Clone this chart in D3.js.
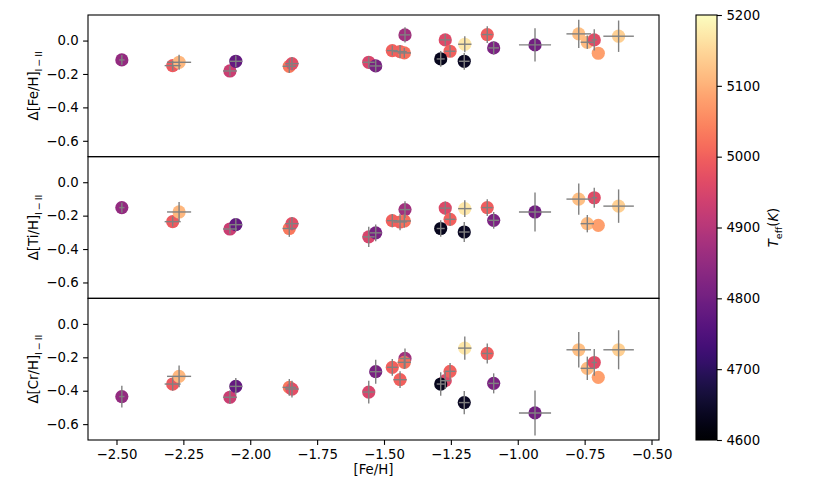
<!DOCTYPE html>
<html><head><meta charset="utf-8">
<script src="https://cdn.jsdelivr.net/npm/d3@7"></script>
<style>
body{margin:0;background:#fff;}
text{font-family:"DejaVu Sans",sans-serif;fill:#000;}
</style></head>
<body><svg id="c" width="830" height="498"></svg>
<script>
const feh    = [-2.48,-2.29,-2.266,-2.076,-2.054,-1.854,-1.844,-1.557,-1.531,-1.4215,-1.469,-1.44,-1.424,-1.271,-1.253,-1.288,-1.198,-1.2,-1.114,-1.09,-0.9355,-0.772,-0.74,-0.714,-0.699,-0.623];
const fehErr = [0.01,0.03,0.045,0.026,0.024,0.025,0.025,0.022,0.022,0.02,0.02,0.025,0.025,0.02,0.02,0.015,0.025,0.02,0.02,0.02,0.06,0.046,0.025,0.01,0,0.057];
const teff   = [4850,4990,5110,4930,4780,5030,4970,4950,4810,4870,5000,5000,5020,4960,5000,4635,5170,4640,4995,4815,4800,5120,5115,4965,5080,5140];
const dFe    = [-0.116,-0.15,-0.13,-0.182,-0.124,-0.154,-0.138,-0.13,-0.152,0.034,-0.06,-0.066,-0.074,0.004,-0.064,-0.11,-0.022,-0.124,0.036,-0.044,-0.026,0.04,-0.01,0.004,-0.076,0.026];
const dFeErr = [0.03,0.03,0.045,0.03,0.035,0.04,0.04,0.035,0.035,0.045,0.03,0.04,0.03,0.035,0.035,0.047,0.048,0.05,0.05,0.04,0.1,0.085,0.04,0.064,0,0.094];
const dTi    = [-0.152,-0.236,-0.178,-0.28,-0.254,-0.277,-0.248,-0.327,-0.303,-0.164,-0.23,-0.238,-0.232,-0.155,-0.222,-0.277,-0.158,-0.298,-0.152,-0.228,-0.178,-0.101,-0.248,-0.093,-0.258,-0.143];
const dTiErr = [0.03,0.03,0.06,0.03,0.04,0.05,0.04,0.06,0.05,0.05,0.04,0.05,0.04,0.04,0.04,0.05,0.05,0.06,0.05,0.05,0.117,0.094,0.052,0.06,0,0.1];
const dCr    = [-0.435,-0.36,-0.314,-0.439,-0.374,-0.38,-0.39,-0.408,-0.286,-0.207,-0.26,-0.334,-0.23,-0.34,-0.284,-0.36,-0.145,-0.471,-0.177,-0.356,-0.533,-0.155,-0.266,-0.231,-0.32,-0.155];
const dCrErr = [0.065,0.04,0.065,0.04,0.05,0.05,0.05,0.068,0.072,0.06,0.05,0.05,0.04,0.05,0.05,0.07,0.07,0.07,0.06,0.06,0.135,0.106,0.07,0.08,0,0.117];
const xTicks = [-2.5,-2.25,-2.0,-1.75,-1.5,-1.25,-1.0,-0.75,-0.5];
const yTicks = [0.0,-0.2,-0.4,-0.6];
const cTicks = [4600,4700,4800,4900,5000,5100,5200];
const panelNames = ["Fe","Ti","Cr"];

const svg = d3.select("#c");
const L=88, R=659, T=15, B=440;
const ph=(B-T)/3;
const x = d3.scaleLinear().domain([-2.6065,-0.472]).range([L,R]);
const col = d3.scaleSequential(d3.interpolateMagma).domain([4600,5200]);
const fmtMinus = s => s.replace("-","\u2212");
const panels = [[dFe,dFeErr],[dTi,dTiErr],[dCr,dCrErr]];

panels.forEach((p,i)=>{
  const top=T+i*ph, bot=top+ph;
  const y = d3.scaleLinear().domain([-0.695,0.153]).range([bot,top]);
  const g = svg.append("g");
  const vals=p[0], errs=p[1];
  // markers
  g.selectAll("circle").data(feh).join("circle")
    .attr("cx",d=>x(d)).attr("cy",(d,k)=>y(vals[k])).attr("r",6.6)
    .attr("fill",(d,k)=>col(teff[k]));
  // error bars
  const eb = g.append("g").attr("stroke","#808080").attr("stroke-width",1.4);
  feh.forEach((fx,k)=>{
    if(errs[k]>0) eb.append("line").attr("x1",x(fx)).attr("x2",x(fx)).attr("y1",y(vals[k]-errs[k])).attr("y2",y(vals[k]+errs[k]));
    if(fehErr[k]>0) eb.append("line").attr("x1",x(fx-fehErr[k])).attr("x2",x(fx+fehErr[k])).attr("y1",y(vals[k])).attr("y2",y(vals[k]));
  });
  // y axis
  const ya = svg.append("g").attr("transform",`translate(${L},0)`)
    .call(d3.axisLeft(y).tickValues(yTicks).tickSize(4.9).tickPadding(4.5).tickFormat(d=>fmtMinus(d3.format(".1f")(d))));
  ya.select(".domain").remove();
  ya.selectAll("text").style("font-size","13.3px");
  ya.selectAll("line").attr("stroke-width",1.1);
  // frame
  svg.append("rect").attr("x",L).attr("y",top).attr("width",R-L).attr("height",ph)
    .attr("fill","none").attr("stroke","#000").attr("stroke-width",1.1);
  // y label
  const lab = svg.append("text").attr("transform",`translate(38,${top+ph/2}) rotate(-90)`)
    .attr("text-anchor","middle").style("font-size","13.3px");
  lab.append("tspan").text(`\u0394[${panelNames[i]}/H]`);
  lab.append("tspan").attr("dy",3.5).style("font-size","9.5px").text("I\u2009\u2212\u2009II");
});

// x axis
const xa = svg.append("g").attr("transform",`translate(0,${B})`)
  .call(d3.axisBottom(x).tickValues(xTicks).tickSize(4.9).tickPadding(4.5).tickFormat(d=>fmtMinus(d3.format(".2f")(d))));
xa.select(".domain").remove();
xa.selectAll("text").style("font-size","13.3px");
xa.selectAll("line").attr("stroke-width",1.1);
svg.append("text").attr("x",(L+R)/2).attr("y",474).attr("text-anchor","middle").style("font-size","13.3px").text("[Fe/H]");

// colorbar
const CL=696, CR=717;
const cy = d3.scaleLinear().domain([4600,5200]).range([B,T]);
const defs = svg.append("defs");
const grad = defs.append("linearGradient").attr("id","cg").attr("x1",0).attr("y1",1).attr("x2",0).attr("y2",0);
d3.range(0,1.0001,0.02).forEach(t=>grad.append("stop").attr("offset",t).attr("stop-color",d3.interpolateMagma(t)));
svg.append("rect").attr("x",CL).attr("y",T).attr("width",CR-CL).attr("height",B-T).attr("fill","url(#cg)")
  .attr("stroke","#000").attr("stroke-width",1.1);
const ca = svg.append("g").attr("transform",`translate(${CR},0)`)
  .call(d3.axisRight(cy).tickValues(cTicks).tickSize(4.9).tickPadding(4.5).tickFormat(d3.format("d")));
ca.select(".domain").remove();
ca.selectAll("text").style("font-size","13.3px");
ca.selectAll("line").attr("stroke-width",1.1);
const cl = svg.append("text").attr("transform",`translate(778,${(T+B)/2}) rotate(-90)`).attr("text-anchor","middle").style("font-size","13.3px");
cl.append("tspan").style("font-style","italic").text("T");
cl.append("tspan").attr("dy",3.5).style("font-size","9.5px").text("eff");
cl.append("tspan").attr("dy",-3.5).text("(");
cl.append("tspan").style("font-style","italic").text("K");
cl.append("tspan").text(")");
</script></body></html>
